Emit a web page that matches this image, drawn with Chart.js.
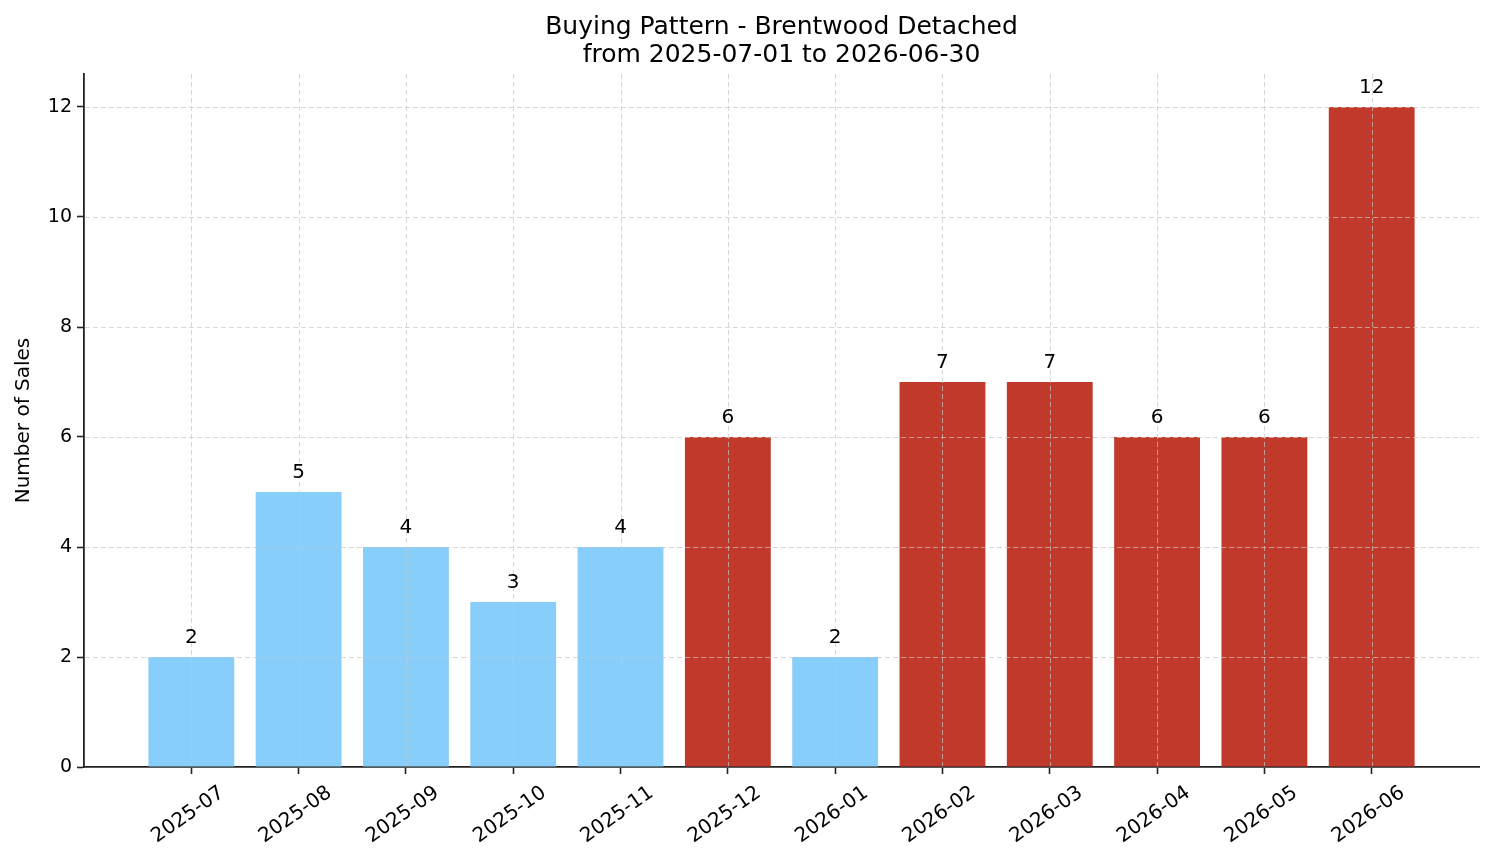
<!DOCTYPE html>
<html>
<head>
<meta charset="utf-8">
<script src="https://cdn.jsdelivr.net/npm/chart.js@4.4.1/dist/chart.umd.min.js"></script>
<style>
  html, body { margin: 0; padding: 0; background: #fff; }
</style>
</head>
<body>
<canvas id="chart" width="1494" height="863"></canvas>
<script>
// chart data
const titleLines = ["Buying Pattern - Brentwood Detached", "from 2025-07-01 to 2026-06-30"];
const months = ["2025-07", "2025-08", "2025-09", "2025-10", "2025-11", "2025-12",
                "2026-01", "2026-02", "2026-03", "2026-04", "2026-05", "2026-06"];
const sales = [2, 5, 4, 3, 4, 6, 2, 7, 7, 6, 6, 12];
const yTicks = [0, 2, 4, 6, 8, 10, 12];

const FONT = '"DejaVu Sans", sans-serif';

// months above the average get the red colour
const avg = sales.reduce((a, b) => a + b, 0) / sales.length;
const barColors = sales.map(v => v > avg ? "#c0392b" : "#87cefa");

// dashed grid drawn over the bars, like the original
const gridOnTop = {
  id: "gridOnTop",
  afterDatasetsDraw(chart) {
    const ctx = chart.ctx;
    const area = chart.chartArea;
    const xs = chart.scales.x;
    const ys = chart.scales.y;
    ctx.save();
    ctx.strokeStyle = "rgba(200, 200, 200, 0.7)";
    ctx.lineWidth = 1;
    ctx.setLineDash([5, 3]);
    for (let i = 0; i < months.length; i++) {
      const px = Math.round(xs.getPixelForValue(i)) + 0.5;
      ctx.beginPath();
      ctx.moveTo(px, area.top);
      ctx.lineTo(px, area.bottom - 1);
      ctx.stroke();
    }
    // skip the zero line, the axis sits there
    for (let j = 1; j < yTicks.length; j++) {
      const py = Math.round(ys.getPixelForValue(yTicks[j])) + 0.5;
      ctx.beginPath();
      ctx.moveTo(area.left + 1, py);
      ctx.lineTo(area.right, py);
      ctx.stroke();
    }
    ctx.restore();
  }
};

// number above each bar
const valueLabels = {
  id: "valueLabels",
  afterDatasetsDraw(chart) {
    const ctx = chart.ctx;
    const meta = chart.getDatasetMeta(0);
    ctx.save();
    ctx.font = "20px " + FONT;
    ctx.fillStyle = "#000";
    ctx.textAlign = "center";
    ctx.textBaseline = "bottom";
    meta.data.forEach((bar, i) => {
      ctx.fillText(String(sales[i]), bar.x, bar.y - 9);
    });
    ctx.restore();
  }
};

new Chart(document.getElementById("chart"), {
  type: "bar",
  data: {
    datasets: [{
      data: sales.map((v, i) => ({ x: i, y: v })),
      backgroundColor: barColors,
      borderWidth: 0,
      barPercentage: 0.8,
      categoryPercentage: 1.0
    }]
  },
  options: {
    responsive: false,
    animation: false,
    devicePixelRatio: 1,
    layout: { padding: { top: 0, left: 0, right: 15, bottom: 0 } },
    plugins: {
      legend: { display: false },
      tooltip: { enabled: false },
      title: {
        display: true,
        fullSize: false,
        text: titleLines,
        color: "#000",
        font: { family: FONT, size: 25, weight: "normal", lineHeight: 1.12 },
        padding: { top: 13, bottom: 5 }
      }
    },
    scales: {
      x: {
        type: "linear",
        min: -1,
        max: 12,
        offset: false,
        afterBuildTicks(scale) {
          scale.ticks = scale.ticks.filter(t => t.value >= 0 && t.value < months.length);
        },
        afterFit(scale) { scale.height = 96; },
        ticks: {
          stepSize: 1,
          autoSkip: false,
          minRotation: 35,
          maxRotation: 35,
          labelOffset: 31,
          padding: 7,
          color: "#000",
          font: { family: FONT, size: 20 },
          callback: v => months[v]
        },
        grid: { offset: false, drawOnChartArea: false, tickColor: "#222", tickLength: 7, tickWidth: 1.6 },
        border: { display: true, color: "#222", width: 1.8 }
      },
      y: {
        min: 0,
        max: 12.6,
        afterBuildTicks(scale) {
          scale.ticks = yTicks.map(v => ({ value: v }));
        },
        afterFit(scale) { scale.width = 84; },
        title: {
          display: true,
          text: "Number of Sales",
          color: "#000",
          font: { family: FONT, size: 20 },
          padding: { top: 12, bottom: 6 }
        },
        ticks: {
          color: "#000",
          padding: 5,
          font: { family: FONT, size: 19 }
        },
        grid: { drawOnChartArea: false, tickColor: "#222", tickLength: 7, tickWidth: 1.6 },
        border: { display: true, color: "#222", width: 1.8 }
      }
    }
  },
  plugins: [gridOnTop, valueLabels]
});
</script>
</body>
</html>
